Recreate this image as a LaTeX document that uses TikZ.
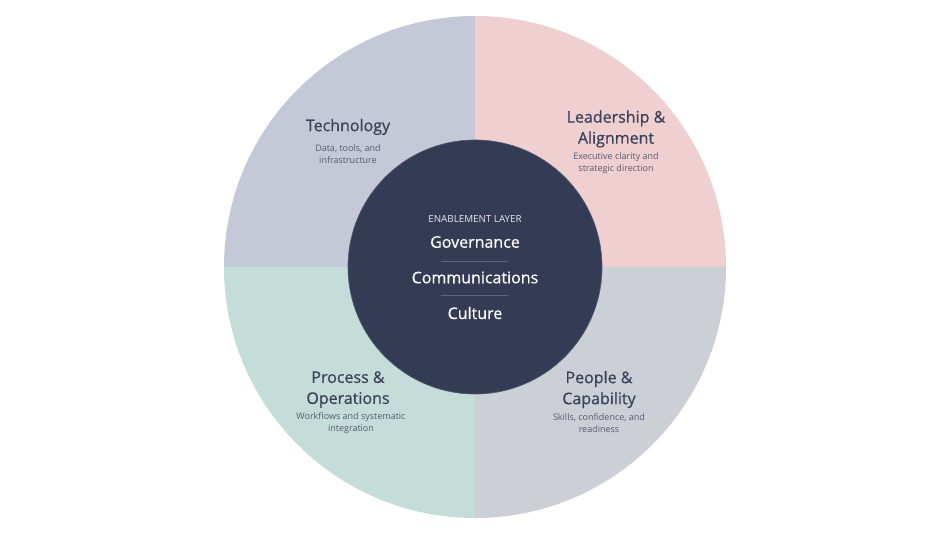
\documentclass[tikz,border=0pt]{standalone}
\usepackage{fontspec}
\setmainfont{Open Sans}
\newfontfamily\medfont{Open Sans}[FakeBold=0.6]
\definecolor{techc}{HTML}{C4C8D7}
\definecolor{leadc}{HTML}{EFCFCF}
\definecolor{peoplec}{HTML}{CDCFD7}
\definecolor{procc}{HTML}{C5DDD8}
\definecolor{corec}{HTML}{343B55}
\definecolor{titlec}{HTML}{3A4159}
\definecolor{subc}{HTML}{565A70}
\definecolor{sepc}{HTML}{5C6480}
\begin{document}
\begin{tikzpicture}[x=1pt,y=-1pt,
  ttl/.style={text=titlec,font=\medfont\fontsize{16}{21}\selectfont,align=center,inner sep=0pt},
  sub/.style={text=subc,font=\fontsize{9}{12}\selectfont,align=center,inner sep=0pt},
  core/.style={text=white,font=\medfont\fontsize{16}{18}\selectfont,inner sep=0pt},
  sep/.style={draw=sepc,line width=0.8pt}]
\useasboundingbox (0,0) rectangle (950,534);
\fill[techc] (475,267) -- (224,267) arc[start angle=180,end angle=270,radius=251] -- cycle;
\fill[leadc] (475,267) -- (475,16) arc[start angle=270,end angle=360,radius=251] -- cycle;
\fill[peoplec] (475,267) -- (726,267) arc[start angle=0,end angle=90,radius=251] -- cycle;
\fill[procc] (475,267) -- (475,518) arc[start angle=90,end angle=180,radius=251] -- cycle;
\node[circle,fill=corec,draw=corec!85!white,line width=0.6pt,minimum size=254pt,inner sep=0pt] (core) at (475,267) {};
\node[text=white!88!corec,font=\fontsize{9.8}{10}\selectfont,inner sep=0pt] (lay) at (475,218.5) {ENABLEMENT LAYER};
\node[core] (gov) at (475,242) {Governance};
\node[core] (com) at (475,277.5) {Communications};
\node[core] (cul) at (475,313) {Culture};
\coordinate (s1a) at (441,261); \coordinate (s1b) at (508,261);
\coordinate (s2a) at (441,295); \coordinate (s2b) at (508,295);
\draw[sep] (s1a) -- (s1b);
\draw[sep] (s2a) -- (s2b);
\node[ttl] (tech) at (348,127) {Technology};
\node[sub] (techs) at (348,154) {Data, tools, and\\infrastructure};
\node[ttl] (lead) at (616,129) {Leadership \&\\Alignment};
\node[sub] (leads) at (616,163) {Executive clarity and\\strategic direction};
\node[ttl] (proc) at (348,389.5) {Process \&\\Operations};
\node[sub] (procs) at (351,423) {Workflows and systematic\\integration};
\node[ttl] (peop) at (599,389.5) {People \&\\Capability};
\node[sub] (peops) at (599,423) {Skills, confidence, and\\readiness};
\end{tikzpicture}
\end{document}
